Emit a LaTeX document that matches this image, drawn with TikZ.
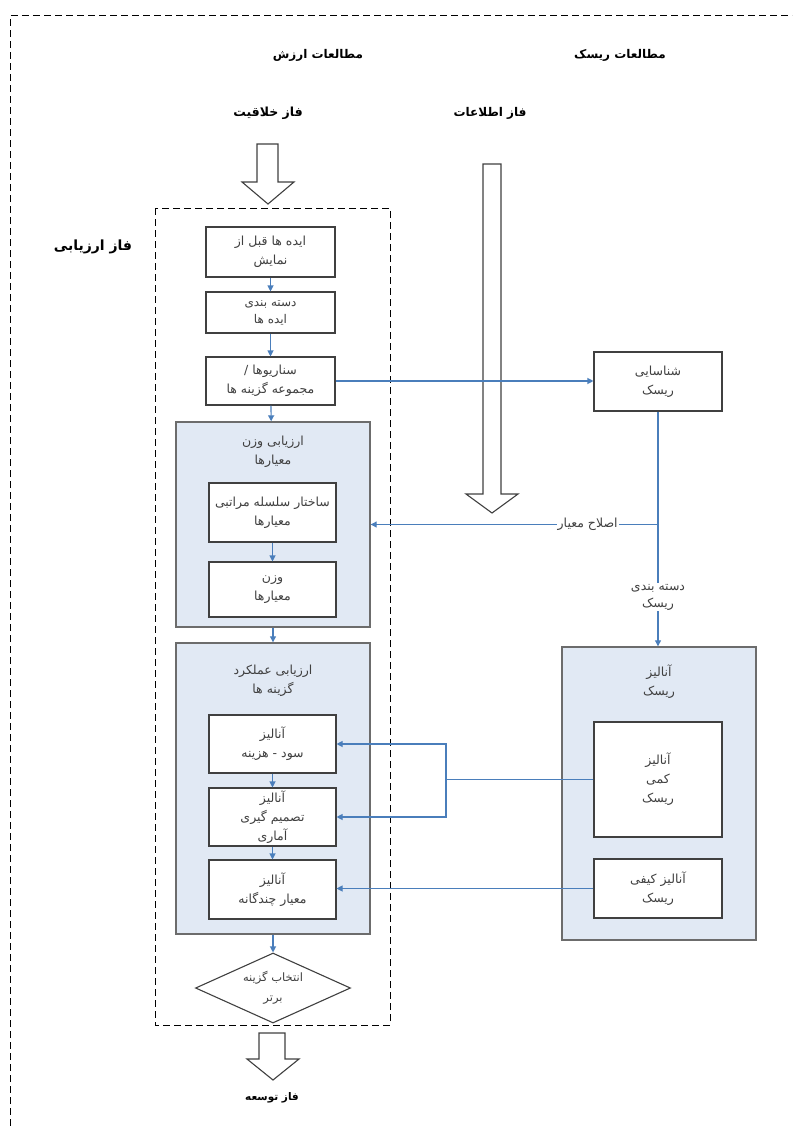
\documentclass[tikz,border=0pt]{standalone}
\usepackage{fontspec}
\usepackage{xcolor}
\usepackage{tikz}
\usetikzlibrary{arrows.meta, shapes.geometric}
\newfontfamily\farsi[Script=Arabic]{DejaVu Sans}
\TeXXeTstate=1
\newcommand{\rl}[1]{\beginR#1\endR}
\definecolor{linkblue}{HTML}{4A7EBB}
\definecolor{groupfill}{HTML}{E1E9F4}
\definecolor{boxgray}{HTML}{404040}

\begin{document}
\begin{tikzpicture}[x=1pt, y=-1pt,
  stepbox/.style={draw=boxgray, line width=1.1pt, fill=white, align=center, inner sep=0pt,
    font=\farsi\fontsize{12.5}{19}\selectfont, text=boxgray},
  groupbox/.style={draw=gray!85!black, line width=1.4pt, fill=groupfill, inner sep=0pt},
  grouptext/.style={align=center, font=\farsi\fontsize{12.5}{19}\selectfont, text=boxgray},
  headtext/.style={font=\farsi\bfseries\fontsize{12}{14}\selectfont},
  decision/.style={diamond, draw=boxgray, line width=1.1pt, fill=white, aspect=2.2,
    minimum width=155pt, minimum height=70pt, inner sep=0pt, align=center,
    font=\farsi\fontsize{11.5}{20}\selectfont, text=boxgray},
  linkline/.style={draw=linkblue, line width=1.1pt},
  flow/.style={linkline, -{Triangle[length=6pt,width=6pt]}, linkblue},
  linklabel/.style={fill=white, inner sep=1pt, align=center, font=\farsi\fontsize{12.5}{17}\selectfont, text=boxgray},
  dashframe/.style={dash pattern=on 7pt off 4pt, line width=1pt},
  bigarrow/.style={draw=boxgray, line width=1.1pt, fill=white, line join=miter}]
\useasboundingbox (0,0) rectangle (792,1126);

% frames
\draw[dashframe] (10,1126) -- (10,16) -- (792,16);
\draw[dashframe] (155,208) rectangle (390,1025);

% headings
\node[headtext] (valueStudy) at (318,55) {\rl{مطالعات ارزش}};
\node[headtext] (riskStudy) at (620,55) {\rl{مطالعات ریسک}};
\node[headtext, font=\farsi\bfseries\fontsize{12.5}{14}\selectfont] (creative) at (268,113) {\rl{فاز خلاقیت}};
\node[headtext] (infoPhase) at (490,113) {\rl{فاز اطلاعات}};
\node[headtext, font=\farsi\bfseries\fontsize{14}{16}\selectfont] (evalPhase) at (93,247) {\rl{فاز ارزیابی}};
\node[headtext, font=\farsi\bfseries\fontsize{10.5}{12}\selectfont] (devPhase) at (272,1098) {\rl{فاز توسعه}};

% hollow arrows
\draw[bigarrow] (257,144) -- (278,144) -- (278,182) -- (294,182) -- (268,204) -- (242,182) -- (257,182) -- cycle;
\draw[bigarrow] (483,164) -- (501,164) -- (501,494) -- (518,494) -- (492,513) -- (466,494) -- (483,494) -- cycle;
\draw[bigarrow] (259,1033) -- (285,1033) -- (285,1059) -- (299,1059) -- (273,1080) -- (247,1059) -- (259,1059) -- cycle;

% groups
\node[groupbox, minimum width=194pt, minimum height=205pt] (weightGroup) at (273,524.5) {};
\node[grouptext] (weightTitle) at (273,452) {\rl{ارزیابی وزن}\\\rl{معیارها}};
\node[groupbox, minimum width=194pt, minimum height=291pt] (perfGroup) at (273,788.5) {};
\node[grouptext] (perfTitle) at (273,681) {\rl{ارزیابی عملکرد}\\\rl{گزینه ها}};
\node[groupbox, minimum width=194pt, minimum height=293pt] (riskGroup) at (659,793.5) {};
\node[grouptext] (riskTitle) at (659,682) {\rl{آنالیز}\\\rl{ریسک}};

% value side
\node[stepbox, minimum width=129pt, minimum height=50pt] (ideas) at (270.5,252) {\rl{ایده ها قبل از}\\\rl{نمایش}};
\node[stepbox, minimum width=129pt, minimum height=41pt, font=\farsi\fontsize{12}{17}\selectfont] (sortIdeas) at (270.5,312.5) {\rl{دسته بندی}\\\rl{ایده ها}};
\node[stepbox, minimum width=129pt, minimum height=48pt] (scenarios) at (270.5,381) {\rl{سناریوها /}\\\rl{مجموعه گزینه ها}};
\node[stepbox, minimum width=127pt, minimum height=59pt] (hierarchy) at (272.5,512.5) {\rl{ساختار سلسله مراتبی}\\\rl{معیارها}};
\node[stepbox, minimum width=127pt, minimum height=55pt] (weights) at (272.5,589.5) {\rl{وزن}\\\rl{معیارها}};
\node[stepbox, minimum width=127pt, minimum height=58pt] (costBenefit) at (272.5,744) {\rl{آنالیز}\\\rl{سود - هزینه}};
\node[stepbox, minimum width=127pt, minimum height=58pt] (statDecision) at (272.5,817) {\rl{آنالیز}\\\rl{تصمیم گیری}\\\rl{آماری}};
\node[stepbox, minimum width=127pt, minimum height=59pt] (multiCrit) at (272.5,889.5) {\rl{آنالیز}\\\rl{معیار چندگانه}};
\node[decision] (choose) at (273,988) {\rl{انتخاب گزینه}\\\rl{برتر}};

% risk side
\node[stepbox, minimum width=128pt, minimum height=59pt] (identify) at (658,381.5) {\rl{شناسایی}\\\rl{ریسک}};
\node[stepbox, minimum width=128pt, minimum height=115pt] (quantRisk) at (658,779.5) {\rl{آنالیز}\\\rl{کمی}\\\rl{ریسک}};
\node[stepbox, minimum width=128pt, minimum height=59pt] (qualRisk) at (658,888.5) {\rl{آنالیز کیفی}\\\rl{ریسک}};

% connectors
\draw[flow] (ideas) -- (sortIdeas);
\draw[flow] (sortIdeas) -- (scenarios);
\draw[flow] (scenarios) -- (weightGroup);
\draw[flow] (hierarchy) -- (weights);
\draw[flow] (weightGroup) -- (perfGroup);
\draw[flow] (costBenefit) -- (statDecision);
\draw[flow] (statDecision) -- (multiCrit);
\draw[flow] (perfGroup) -- (choose);
\draw[flow] (scenarios.east) -- (scenarios.east -| identify.west);
\draw[flow] (identify.south) -- node[pos=0.79, linklabel] {\rl{دسته بندی}\\\rl{ریسک}} (identify.south |- riskGroup.north);
\coordinate (fixPoint) at (identify.south |- weightGroup.east);
\draw[flow] (fixPoint) -- node[pos=0.245, linklabel] {\rl{اصلاح معیار}} (weightGroup.east);
\coordinate (split) at (446,779.5);
\draw[linkline] (quantRisk.west) -- (split);
\draw[flow] (split) |- (costBenefit.east);
\draw[flow] (split) |- (statDecision.east);
\draw[flow] (qualRisk.west) -- (qualRisk.west -| multiCrit.east);
\end{tikzpicture}
\end{document}
